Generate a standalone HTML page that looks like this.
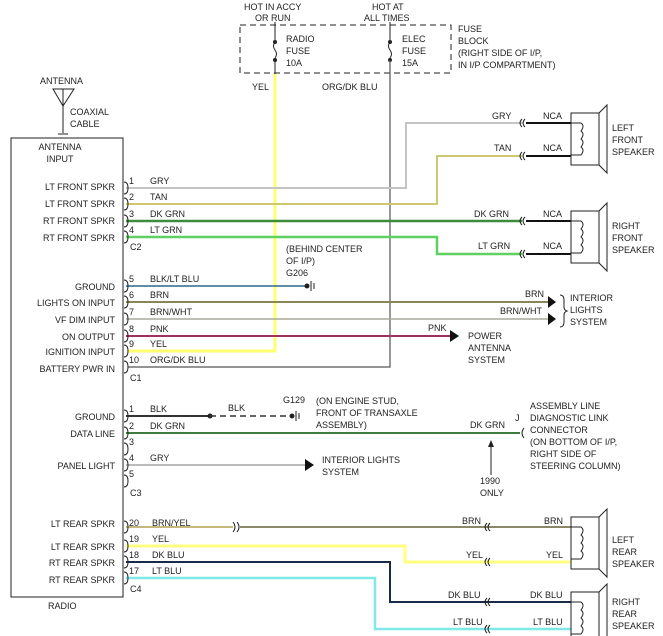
<!DOCTYPE html>
<html><head><meta charset="utf-8"><style>
html,body{margin:0;padding:0;background:#fff;}
svg{display:block;}
text{font-family:"Liberation Sans",sans-serif;font-size:9px;fill:#222;}
</style></head><body>
<svg width="663" height="636" viewBox="0 0 663 636" xmlns="http://www.w3.org/2000/svg">
<defs>
<g id="spk">
<rect x="0" y="0" width="28" height="52" fill="none" stroke="#222" stroke-width="1"/>
<path d="M28 0 L36 -8 L36 60 L28 52" fill="none" stroke="#222"/>
<path d="M0 10 H10 q4 3 0 8 q4 3 0 8 q4 3 0 8 q4 3 0 8 H0" fill="none" stroke="#222"/>
</g>
<g id="cn"><path d="M4 -4 q-4 4 0 8 M7 -4 q-4 4 0 8" fill="none" stroke="#222"/></g>
</defs>
<!-- fuse block -->
<rect x="240" y="25" width="211" height="48" fill="none" stroke="#222" stroke-dasharray="6,4"/>
<text x="244" y="10">HOT IN ACCY</text><text x="255" y="21">OR RUN</text>
<text x="372" y="10">HOT AT</text><text x="364" y="21">ALL TIMES</text>
<text x="458" y="32">FUSE</text><text x="458" y="44">BLOCK</text>
<text x="458" y="56">(RIGHT SIDE OF I/P,</text><text x="458" y="68">IN I/P COMPARTMENT)</text>
<text x="286" y="42">RADIO</text><text x="286" y="54">FUSE</text><text x="286" y="66">10A</text>
<text x="402" y="42">ELEC</text><text x="402" y="54">FUSE</text><text x="402" y="66">15A</text>
<line x1="275" y1="22" x2="275" y2="40" stroke="#222"/>
<path d="M275 42 q-3 4 0 8 q3 4 0 8" fill="none" stroke="#222"/>
<circle cx="275" cy="42" r="2" fill="#222"/><circle cx="275" cy="60" r="2" fill="#222"/>
<line x1="275" y1="60" x2="275" y2="74" stroke="#222"/>
<line x1="390" y1="22" x2="390" y2="40" stroke="#222"/>
<path d="M390 42 q-3 4 0 8 q3 4 0 8" fill="none" stroke="#222"/>
<circle cx="390" cy="42" r="2" fill="#222"/><circle cx="390" cy="60" r="2" fill="#222"/>
<text x="252" y="90">YEL</text><text x="322" y="90">ORG/DK BLU</text>
<!-- yellow & org wires -->
<polyline points="275,74 275,351 128,351" fill="none" stroke="#ffff70" stroke-width="3"/>
<polyline points="390,60 390,367 128,367" fill="none" stroke="#555" stroke-width="1.2"/>
<!-- antenna -->
<text x="40" y="84">ANTENNA</text>
<path d="M53 89 L74 89 L63 106 Z M63 89 V133" fill="none" stroke="#222"/>
<line x1="58" y1="134" x2="68" y2="134" stroke="#222"/>
<text x="70" y="115">COAXIAL</text><text x="70" y="127">CABLE</text>
<!-- radio box -->
<rect x="11" y="138" width="112" height="459" fill="none" stroke="#222"/>
<text x="48" y="609">RADIO</text>
<text x="60" y="150" text-anchor="middle">ANTENNA</text><text x="60" y="162" text-anchor="middle">INPUT</text>
<g text-anchor="end">
<text x="115" y="190">LT FRONT SPKR</text><text x="115" y="207">LT FRONT SPKR</text>
<text x="115" y="224">RT FRONT SPKR</text><text x="115" y="241">RT FRONT SPKR</text>
<text x="115" y="290">GROUND</text><text x="115" y="306">LIGHTS ON INPUT</text>
<text x="115" y="323">VF DIM INPUT</text><text x="115" y="340">ON OUTPUT</text>
<text x="115" y="355">IGNITION INPUT</text><text x="115" y="372">BATTERY PWR IN</text>
<text x="115" y="420">GROUND</text><text x="115" y="437">DATA LINE</text>
<text x="115" y="469">PANEL LIGHT</text>
<text x="115" y="527">LT REAR SPKR</text><text x="115" y="550">LT REAR SPKR</text>
<text x="115" y="566">RT REAR SPKR</text><text x="115" y="583">RT REAR SPKR</text>
</g>
<g font-size="9">
<text x="129" y="184">1</text><text x="150" y="184">GRY</text>
<text x="129" y="200">2</text><text x="150" y="200">TAN</text>
<text x="129" y="217">3</text><text x="150" y="217">DK GRN</text>
<text x="129" y="233">4</text><text x="150" y="233">LT GRN</text>
<text x="130" y="250">C2</text>
<text x="129" y="282">5</text><text x="150" y="282">BLK/LT BLU</text>
<text x="129" y="298">6</text><text x="150" y="298">BRN</text>
<text x="129" y="315">7</text><text x="150" y="315">BRN/WHT</text>
<text x="129" y="332">8</text><text x="150" y="332">PNK</text>
<text x="129" y="347">9</text><text x="150" y="347">YEL</text>
<text x="129" y="363">10</text><text x="150" y="363">ORG/DK BLU</text>
<text x="130" y="381">C1</text>
<text x="129" y="412">1</text><text x="150" y="412">BLK</text>
<text x="129" y="429">2</text><text x="150" y="429">DK GRN</text>
<text x="129" y="445">3</text>
<text x="129" y="461">4</text><text x="150" y="461">GRY</text>
<text x="129" y="477">5</text>
<text x="130" y="496">C3</text>
<text x="129" y="526">20</text><text x="152" y="526">BRN/YEL</text>
<text x="129" y="542">19</text><text x="152" y="542">YEL</text>
<text x="129" y="558">18</text><text x="152" y="558">DK BLU</text>
<text x="129" y="574">17</text><text x="152" y="574">LT BLU</text>
<text x="130" y="592">C4</text>
</g>
<!-- front speaker wires -->
<polyline points="126,188 406,188 406,123 522,123" fill="none" stroke="#c4c4c4" stroke-width="2"/>
<polyline points="126,204 437,204 437,156 522,156" fill="none" stroke="#d0c870" stroke-width="2"/>
<polyline points="126,221 522,221" fill="none" stroke="#3c8c3c" stroke-width="2.5"/>
<polyline points="126,237 437,237 437,254 522,254" fill="none" stroke="#60d060" stroke-width="2.5"/>
<text x="492" y="119">GRY</text><text x="494" y="151">TAN</text>
<text x="474" y="217">DK GRN</text><text x="478" y="249">LT GRN</text>
<use href="#cn" x="518" y="123"/><use href="#cn" x="518" y="156"/>
<use href="#cn" x="518" y="221"/><use href="#cn" x="518" y="254"/>
<g stroke="#111" stroke-width="2"><line x1="526" y1="123" x2="571" y2="123"/><line x1="526" y1="156" x2="571" y2="156"/>
<line x1="526" y1="221" x2="571" y2="221"/><line x1="526" y1="254" x2="571" y2="254"/></g>
<text x="543" y="119">NCA</text><text x="543" y="151">NCA</text><text x="543" y="217">NCA</text><text x="543" y="249">NCA</text>
<use href="#spk" x="571" y="113"/><use href="#spk" x="571" y="211"/>
<text x="612" y="131">LEFT</text><text x="612" y="143">FRONT</text><text x="612" y="155">SPEAKER</text>
<text x="612" y="229">RIGHT</text><text x="612" y="241">FRONT</text><text x="612" y="253">SPEAKER</text>
<!-- C1 -->
<text x="286" y="252">(BEHIND CENTER</text><text x="286" y="264">OF I/P)</text><text x="286" y="276">G206</text>
<line x1="126" y1="286" x2="305" y2="286" stroke="#2a6a8a" stroke-width="1.5"/>
<circle cx="307" cy="286" r="2.5" fill="#222"/><path d="M311 281 V291 M314 283 V289" stroke="#222"/>
<line x1="126" y1="302" x2="548" y2="302" stroke="#8a8658" stroke-width="2"/>
<line x1="126" y1="319" x2="548" y2="319" stroke="#a8a898" stroke-width="1.5"/>
<path d="M548 296 L556 302 L548 308 Z M548 313 L556 319 L548 325 Z" fill="#111"/>
<text x="525" y="297">BRN</text><text x="500" y="314">BRN/WHT</text>
<path d="M560 295 q4 0 4 5 v7 q0 3 3 4 q-3 1 -3 4 v7 q0 5 -4 5" fill="none" stroke="#222"/>
<text x="570" y="301">INTERIOR</text><text x="570" y="313">LIGHTS</text><text x="570" y="325">SYSTEM</text>
<line x1="126" y1="336" x2="450" y2="336" stroke="#a03060" stroke-width="2"/>
<path d="M450 330 L459 336 L450 342 Z" fill="#111"/>
<text x="428" y="331">PNK</text>
<text x="468" y="339">POWER</text><text x="468" y="351">ANTENNA</text><text x="468" y="363">SYSTEM</text>
<!-- C3 -->
<line x1="126" y1="416" x2="210" y2="416" stroke="#333" stroke-width="2"/>
<circle cx="210" cy="416" r="2.5" fill="#222"/>
<line x1="210" y1="416" x2="290" y2="416" stroke="#333" stroke-width="1.5" stroke-dasharray="6,4"/>
<circle cx="292" cy="416" r="2.5" fill="#222"/><path d="M296 411 V421 M299 413 V419" stroke="#222"/>
<text x="228" y="411">BLK</text><text x="283" y="403">G129</text>
<text x="316" y="404">(ON ENGINE STUD,</text><text x="316" y="416">FRONT OF TRANSAXLE</text><text x="316" y="428">ASSEMBLY)</text>
<line x1="126" y1="433" x2="520" y2="433" stroke="#3c7c3c" stroke-width="2"/>
<path d="M524 428 q-4 5 0 10" fill="none" stroke="#222"/>
<text x="470" y="428">DK GRN</text><text x="515" y="421">J</text>
<text x="530" y="409">ASSEMBLY LINE</text><text x="530" y="421">DIAGNOSTIC LINK</text><text x="530" y="433">CONNECTOR</text>
<text x="530" y="445">(ON BOTTOM OF I/P,</text><text x="530" y="457">RIGHT SIDE OF</text><text x="530" y="469">STEERING COLUMN)</text>
<line x1="491" y1="442" x2="491" y2="475" stroke="#222"/><path d="M488 447 L491 440 L494 447 Z" fill="#222"/>
<text x="480" y="484">1990</text><text x="480" y="496">ONLY</text>
<line x1="126" y1="465" x2="305" y2="465" stroke="#bbb" stroke-width="2"/>
<path d="M305 459 L314 465 L305 471 Z" fill="#111"/>
<text x="322" y="463">INTERIOR LIGHTS</text><text x="322" y="475">SYSTEM</text>
<!-- C4 -->
<line x1="126" y1="527" x2="233" y2="527" stroke="#b0a050" stroke-width="1.5"/>
<path d="M233 522 q4 5 0 10 M237 522 q4 5 0 10" fill="none" stroke="#222"/>
<line x1="240" y1="527" x2="571" y2="527" stroke="#8a8868" stroke-width="2"/>
<polyline points="126,546 405,546 405,562 571,562" fill="none" stroke="#ffff80" stroke-width="3"/>
<polyline points="126,562 390,562 390,602 571,602" fill="none" stroke="#1a2a48" stroke-width="2"/>
<polyline points="126,578 375,578 375,629 571,629" fill="none" stroke="#80e8e8" stroke-width="2.5"/>
<use href="#cn" x="483" y="527"/><use href="#cn" x="483" y="562"/><use href="#cn" x="483" y="602"/><use href="#cn" x="483" y="629"/>
<text x="462" y="524">BRN</text><text x="544" y="524">BRN</text>
<text x="466" y="558">YEL</text><text x="546" y="558">YEL</text>
<text x="448" y="598">DK BLU</text><text x="530" y="598">DK BLU</text>
<text x="453" y="625">LT BLU</text><text x="533" y="625">LT BLU</text>
<use href="#spk" x="571" y="517"/><use href="#spk" x="571" y="592"/>
<text x="612" y="543">LEFT</text><text x="612" y="555">REAR</text><text x="612" y="567">SPEAKER</text>
<text x="612" y="605">RIGHT</text><text x="612" y="617">REAR</text><text x="612" y="629">SPEAKER</text>
<!-- pin brackets -->
<g fill="none" stroke="#222" stroke-width="1">
<path d="M124 182 q4 0 4 6 q0 6 -4 6 M124 198 q4 0 4 6 q0 6 -4 6 M124 215 q4 0 4 6 q0 6 -4 6 M124 231 q4 0 4 6 q0 6 -4 6"/>
<path d="M124 280 q4 0 4 6 q0 6 -4 6 M124 296 q4 0 4 6 q0 6 -4 6 M124 313 q4 0 4 6 q0 6 -4 6 M124 330 q4 0 4 6 q0 6 -4 6 M124 345 q4 0 4 6 q0 6 -4 6 M124 361 q4 0 4 6 q0 6 -4 6"/>
<path d="M124 410 q4 0 4 6 q0 6 -4 6 M124 427 q4 0 4 6 q0 6 -4 6 M124 443 q4 0 4 6 q0 6 -4 6 M124 459 q4 0 4 6 q0 6 -4 6 M124 475 q4 0 4 6 q0 6 -4 6"/>
<path d="M124 521 q4 0 4 6 q0 6 -4 6 M124 540 q4 0 4 6 q0 6 -4 6 M124 556 q4 0 4 6 q0 6 -4 6 M124 572 q4 0 4 6 q0 6 -4 6"/>
</g>
</svg>
</body></html>
